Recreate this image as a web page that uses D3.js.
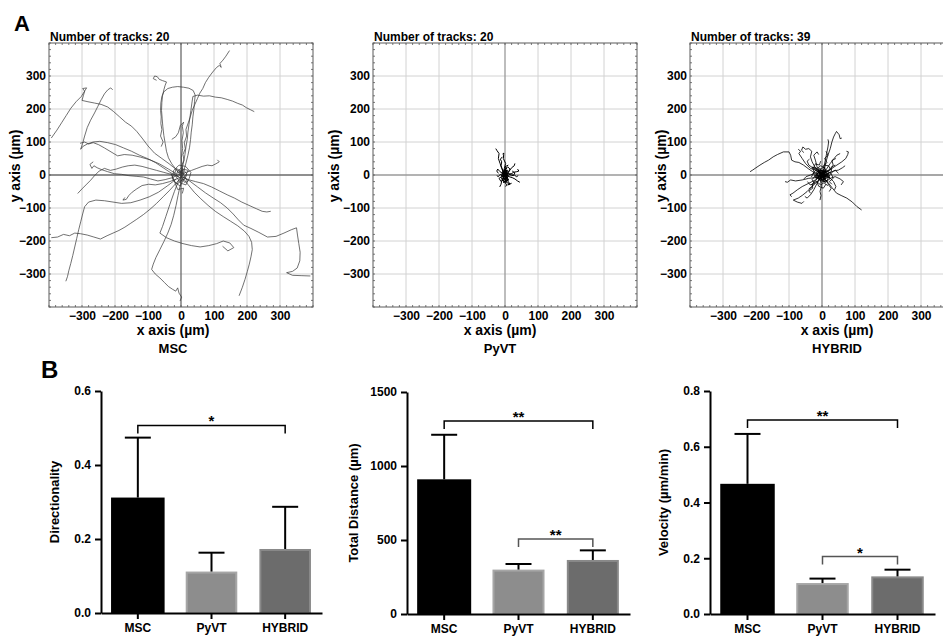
<!DOCTYPE html>
<html>
<head>
<meta charset="utf-8">
<script src="https://cdn.jsdelivr.net/npm/d3@7"></script>
<style>
  body { margin: 0; background: #fff; }
  text { font-family: "Liberation Sans", Arial, sans-serif; font-weight: bold; fill: #000; }
</style>
</head>
<body>
<svg id="fig" width="943" height="638"></svg>
<script>
// ---- data ----
var groups = ["MSC", "PyVT", "HYBRID"];
var trackCounts = [20, 20, 39];
var axisTicks = [-300, -200, -100, 0, 100, 200, 300];

// tracks in um, flat x,y lists
var mscTracks = [
  [0,0, 5,12, 2,28, 9,45, 6,62, 13,80, 10,98, 17,118, 15,138, 22,158, 28,176, 34,196, 42,214, 50,232, 57,248, 66,262, 74,280, 84,296, 96,312, 108,326, 116,332, 122,326, 118,338, 127,348, 136,360, 147,377],
  [-4,4, 3,18, 8,40, 12,62, 15,85, 19,108, 21,130, 24,152, 27,174, 30,196, 33,218, 36,238, 50,242, 68,239, 86,240, 104,236, 122,234, 140,229, 156,224, 172,217, 186,212, 198,204, 210,198, 222,192],
  [3,-4, 9,14, 15,36, 21,60, 26,84, 29,108, 31,130, 34,152, 36,176, 39,198, 41,222, 43,242, 37,256, 24,263, 8,266, -10,268, -26,266, -40,262, -52,252, -58,238, -61,218, -62,196, -60,176, -61,156, -58,138, -62,118, -54,100, -60,86],
  [-6,4, -16,18, -28,34, -38,52, -44,72, -48,96, -52,120, -55,146, -57,170, -59,196, -58,220, -56,240, -52,258, -48,272, -44,282, -56,286, -66,290, -72,298, -80,300, -84,292, -74,287],
  [2,6, -16,18, -36,34, -58,50, -80,66, -100,88, -118,112, -134,132, -150,148, -168,160, -186,176, -204,192, -222,206, -242,214, -262,218, -282,222, -300,226, -296,240, -292,254, -298,262, -286,264, -302,238, -318,222, -334,202, -348,180, -362,158, -376,136, -393,112],
  [-8,-4, -30,6, -54,22, -78,38, -102,50, -126,60, -150,72, -174,82, -198,92, -222,98, -246,102, -266,100, -284,94, -298,86, -304,78, -298,96, -292,118, -284,144, -274,166, -262,188, -252,208, -242,228, -232,246, -222,258, -213,264, -207,258],
  [-12,2, -38,18, -66,34, -94,46, -122,54, -148,60, -172,62, -192,58, -212,70, -232,82, -250,92, -266,98, -280,94, -292,100, -306,96],
  [-10,-4, -30,2, -52,8, -74,14, -96,20, -118,26, -140,30, -160,28, -178,24, -196,18, -214,14, -232,20, -248,12, -262,-2, -274,-16, -288,-30, -300,-42, -313,-56],
  [-6,2, -26,-8, -48,-14, -70,-18, -92,-12, -114,-6, -136,-4, -158,-2, -180,2, -202,4, -222,10, -240,16, -254,22, -264,28, -270,20, -276,32, -266,40],
  [4,-4, -14,-12, -34,-20, -56,-26, -78,-30, -98,-28, -118,-32, -134,-42, -148,-52, -158,-62, -166,-74, -176,-76, -170,-68],
  [0,-8, -16,-26, -34,-46, -54,-66, -74,-86, -94,-104, -114,-120, -134,-134, -152,-146, -170,-158, -188,-168, -206,-176, -224,-184, -244,-194, -264,-188, -284,-182, -304,-178, -322,-176, -338,-184, -356,-180, -374,-188, -393,-190],
  [-14,-12, -40,-32, -68,-52, -96,-66, -124,-76, -152,-84, -180,-86, -206,-82, -232,-78, -258,-76, -280,-82, -292,-96, -298,-118, -304,-142, -310,-166, -316,-192, -322,-218, -328,-244, -334,-268, -340,-290, -344,-308, -349,-322],
  [3,-10, -3,-34, -9,-62, -15,-92, -22,-122, -30,-150, -40,-176, -52,-202, -64,-226, -76,-250, -84,-270, -89,-286, -78,-300, -64,-312, -50,-326, -38,-338, -26,-346, -16,-352, -10,-342, -6,-358, 2,-370, -3,-382],
  [8,-12, 22,-30, 40,-52, 60,-72, 82,-92, 104,-110, 128,-126, 150,-140, 172,-154, 192,-170, 206,-186, 214,-204, 216,-226, 212,-248, 207,-270, 201,-292, 194,-316, 186,-340, 176,-366],
  [5,-6, 26,-18, 50,-36, 74,-54, 98,-70, 120,-84, 140,-100, 158,-118, 174,-136, 190,-152, 212,-162, 236,-174, 262,-188, 288,-186, 312,-176, 334,-166, 350,-160, 353,-182, 357,-208, 361,-234, 360,-260, 352,-282, 338,-292, 320,-296, 338,-304, 364,-305, 392,-306],
  [-6,-14, -20,-50, -34,-90, -46,-126, -56,-156, -64,-176, -44,-190, -20,-200, 6,-208, 32,-214, 58,-218, 84,-214, 108,-208, 128,-200, 148,-206, 160,-220, 142,-230, 126,-216],
  [4,-6, 22,-14, 44,-20, 68,-26, 92,-36, 116,-48, 140,-60, 162,-70, 184,-82, 206,-92, 228,-102, 246,-110, 260,-112, 272,-110],
  [0,4, 16,8, 32,14, 48,20, 64,26, 80,30, 94,28, 106,34, 116,40, 110,46],
  [0,0, 8,-6, -5,-10, 10,5, -8,8, 5,15, -3,-18, 12,-12, 18,3, 2,22, -10,12, -15,-5, 0,-25, 15,-30, 25,-10, 30,8, 14,26, -6,30, -22,14, -26,-12, -12,-28, 6,-14, -4,4, 10,-22, 20,-20, 4,8, -14,20, -20,2, -8,-6, 6,18, 22,14, 12,-4, -2,-34, -18,-22, -30,4, -10,-44, 8,-40, 4,-56],
  [0,0, 3,26, 1,52, 5,80, 3,104, 7,128, 4,148, 8,160, -2,150, -8,128, -16,116, -28,108]
];

var pyvtTracks = [
  [0,0, -5,8, -10,20, -15,35, -20,50, -18,65, -25,75, -28,80],
  [0,0, 3,10, -2,20, 2,35, -5,50, -4,62, -6,65, -3,66, -6,62],
  [0,0, 10,5, 18,2, 25,8, 35,10, 42,12, 38,18],
  [0,0, 12,-5, 22,-8, 30,-12, 38,-18, 45,-22],
  [0,0, -5,-8, -10,-18, -12,-28, -16,-36],
  [0,0, 6,-10, 10,-20, 15,-28, 8,-30, 20,-25],
  [0,0, -8,5, -15,10, -22,18, -25,12, -20,5],
  [2,-3, 8,5, 15,15, 20,22, 28,28, 30,35],
  [-3,2, -10,-5, -18,-10, -12,-20, -5,-15, 0,-22],
  [0,5, 5,12, 10,8, 15,18, 8,25, 2,18],
  [-2,0, -6,12, -12,28, -10,40, -14,48, -8,55],
  [1,-2, 5,-8, -3,-12, 4,-18, 10,-15, 6,-5],
  [0,0, -4,6, 3,10, -2,15, 6,20, 0,25, 10,30],
  [0,0, 12,3, 20,-2, 28,0, 35,-5, 40,-2],
  [0,0, -8,-3, -15,2, -20,-5, -25,-2],
  [0,0, 3,-12, 0,-22, 5,-30, 2,-35],
  [2,2, 10,-3, 18,5, 25,-2, 30,6, 22,12],
  [-1,1, -6,-4, -3,-10, -9,-14, -4,-20, 4,-22, 12,-26],
  [0,0, 4,4, -4,4, 4,-4, -4,-4, 6,8, -6,-8, 2,-12, -2,12, 8,14, -8,10, -10,-12, 8,-10, 0,18, -4,-18],
  [0,3, 2,-5, -6,3, 6,1, -2,9, 8,-8, -8,-4, 4,-16, -4,16, 10,4, -10,0, 2,22, 6,-20, -6,-22, 12,-14]
];

var hybridTracks = [
  [0,0, -15,5, -28,10, -40,18, -56,30, -70,38, -82,40, -92,45, -95,60, -100,70, -117,70, -135,62, -148,55, -162,45, -175,38, -188,30, -200,22, -210,15, -218,10],
  [0,0, -10,12, -22,25, -30,40, -35,55, -31,72, -40,80, -50,78, -58,85, -62,75, -55,68],
  [-5,5, -20,15, -35,20, -50,35, -60,50, -70,65, -65,72, -72,78],
  [2,5, 8,20, 12,40, 18,60, 25,80, 30,100, 35,115, 40,125, 44,132, 52,122, 55,110, 60,112],
  [0,0, 5,20, 10,45, 14,65, 18,85, 20,100, 18,108],
  [3,2, 15,10, 30,20, 45,30, 60,40, 72,50, 78,62, 80,70, 74,72],
  [5,-3, 20,5, 35,12, 50,15, 62,22, 70,28],
  [-3,-2, -20,-8, -40,-10, -60,-15, -80,-18, -95,-15, -105,-22, -112,-20],
  [-5,-5, -20,-15, -40,-25, -60,-35, -75,-45, -88,-55, -97,-60, -92,-66],
  [0,-5, -15,-20, -30,-35, -45,-50, -60,-62, -72,-70, -87,-76, -75,-82, -61,-86, -55,-80],
  [2,-4, 10,-15, 20,-25, 30,-38, 44,-55, 58,-62, 75,-70, 92,-82, 105,-95, 120,-106],
  [0,-3, -4,-20, -2,-35, -6,-50, -3,-62, -6,-76],
  [-3,-4, -15,-25, -25,-45, -35,-60, -45,-70, -52,-65],
  [4,4, 15,20, 25,35, 35,48, 45,60, 55,65],
  [-4,4, -15,25, -20,45, -25,60, -15,70, -10,62],
  [4,-2, 25,-10, 40,-5, 55,-12, 65,-20, 58,-30],
  [5,0, 20,-5, 35,-20, 42,-35, 38,-45],
  [-2,3, -10,-2, -22,5, -35,0, -48,-5, -55,-12],
  [0,0, 10,8, 22,-2, 30,8, 40,15, 50,5],
  [0,0, -8,10, -15,18, -28,22, -40,30, -45,42, -38,48],
  [0,0, 5,-12, 15,-18, 20,-30, 28,-40, 22,-50],
  [0,0, -5,-10, -12,-20, -25,-22, -30,-35, -40,-42],
  [0,0, 10,15, 5,28, 15,38, 8,50, 18,60, 12,72],
  [0,0, -12,-5, -20,-18, -30,-28, -28,-40, -40,-48, -35,-55],
  [0,0, 15,3, 28,10, 30,25, 40,30],
  [0,0, 8,-5, -6,-8, 10,6, -10,5, 6,12, -4,-14, 14,-10, 18,4, 2,18],
  [-2,2, -12,-6, 4,-18, 12,-4, -8,10, -16,2, -2,-22, 16,-16, 22,0],
  [1,-1, 20,-8, 8,12, -14,14, -20,-4, -6,-16, 10,-20, 24,-12, 18,10],
  [0,2, -6,18, 6,24, 14,10, 26,16, 20,28, 6,30],
  [0,-2, -18,-10, -26,6, -14,20, -30,24, -24,10, -32,-6],
  [2,0, 8,-22, -4,-30, -16,-20, -10,-34, 4,-40, 12,-28],
  [-1,0, 6,6, -6,6, 6,-6, -6,-6, 10,2, -10,-2, 2,10, -2,-10, 12,12, -12,12, 12,-12, -12,-12, 16,0, -16,0],
  [3,2, 14,14, 28,4, 34,-10, 22,-20, 30,-28],
  [-2,-3, -14,12, -26,20, -20,34, -8,30, -4,42],
  [0,0, -20,-2, -30,-14, -22,-26, -36,-30, -44,-20],
  [2,4, 12,-6, 4,-12, 16,-18, 8,-26, 18,-32],
  [-3,1, -10,8, 0,14, -12,22, -4,28, 8,22],
  [0,0, 24,18, 34,30, 30,44, 42,50],
  [0,0, -4,-4, 4,-2, -2,6, 6,4, -6,-2, 2,-8, 8,-6, -8,6, 0,14, 14,-2, -14,-6, 4,-16, 10,10, -10,16, -18,-10]
];

// panel B values (mean and SD)
var directionality = [0.312, 0.112, 0.173];
var directionalitySD = [0.162, 0.051, 0.114];
var totalDistance = [910, 300, 365];
var totalDistanceSD = [301, 38, 65];
var velocity = [0.467, 0.111, 0.135];
var velocitySD = [0.179, 0.016, 0.024];

var directionalityTicks = [0, 0.2, 0.4, 0.6];
var distanceTicks = [0, 500, 1000, 1500];
var velocityTicks = [0, 0.2, 0.4, 0.6, 0.8];

var directionalitySig = [["MSC", "HYBRID", 0.507, "*"]];
var distanceSig = [["MSC", "HYBRID", 1304, "**"], ["PyVT", "HYBRID", 507, "**"]];
var velocitySig = [["MSC", "HYBRID", 0.696, "**"], ["PyVT", "HYBRID", 0.206, "*"]];

// ---- drawing ----
var svg = d3.select("#fig");

svg.append("text").attr("x", 14).attr("y", 31).style("font-size", "22px").text("A");
svg.append("text").attr("x", 41).attr("y", 378).style("font-size", "24px").text("B");

function toPairs(a) {
  var out = [];
  for (var i = 0; i < a.length; i += 2) out.push([a[i], a[i + 1]]);
  return out;
}

var trackPanels = [
  { tracks: mscTracks, left: 49, stroke: "#333", sw: 0.7, zero: "#6a6a6a", ylabX: 20, titleX: 173 },
  { tracks: pyvtTracks, left: 373, stroke: "#000", sw: 1.0, zero: "#9a9a9a", ylabX: 339, titleX: 500 },
  { tracks: hybridTracks, left: 690, stroke: "#000", sw: 0.8, zero: "#8a8a8a", ylabX: 666, titleX: 837 }
];

trackPanels.forEach(function(p, i) {
  var size = 264, top = 43;
  var g = svg.append("g").attr("transform", "translate(" + p.left + "," + top + ")");
  var x = d3.scaleLinear().domain([-400, 400]).range([0, size]);
  var y = d3.scaleLinear().domain([-400, 400]).range([size, 0]);

  g.append("clipPath").attr("id", "clip" + i)
    .append("rect").attr("width", size).attr("height", size);

  var grid = axisTicks.filter(d => d != 0);
  g.selectAll(".vg").data(grid).enter().append("line")
    .attr("x1", d => x(d)).attr("x2", d => x(d))
    .attr("y1", 0).attr("y2", size)
    .attr("stroke", "#d2d2d2").attr("stroke-width", 1);
  g.selectAll(".hg").data(grid).enter().append("line")
    .attr("y1", d => y(d)).attr("y2", d => y(d))
    .attr("x1", 0).attr("x2", size)
    .attr("stroke", "#d2d2d2").attr("stroke-width", 1);
  g.append("line").attr("x1", x(0)).attr("x2", x(0)).attr("y1", 0).attr("y2", size)
    .attr("stroke", p.zero).attr("stroke-width", 1.3);
  g.append("line").attr("y1", y(0)).attr("y2", y(0)).attr("x1", 0).attr("x2", size)
    .attr("stroke", p.zero).attr("stroke-width", 1.3);

  var line = d3.line().x(d => x(d[0])).y(d => y(d[1]));
  g.append("g").attr("clip-path", "url(#clip" + i + ")")
    .selectAll("path").data(p.tracks).enter().append("path")
    .attr("d", d => line(toPairs(d)))
    .attr("fill", "none")
    .attr("stroke", p.stroke)
    .attr("stroke-width", p.sw)
    .attr("stroke-linejoin", "round");

  // minor ticks on the frame
  var minor = x.ticks(40);
  var mt = g.append("g").attr("stroke", "#555").attr("stroke-width", 0.8);
  minor.forEach(function(v) {
    mt.append("line").attr("x1", x(v)).attr("x2", x(v)).attr("y1", size).attr("y2", size - 2);
    mt.append("line").attr("x1", x(v)).attr("x2", x(v)).attr("y1", 0).attr("y2", 2);
    mt.append("line").attr("y1", y(v)).attr("y2", y(v)).attr("x1", 0).attr("x2", 2);
    mt.append("line").attr("y1", y(v)).attr("y2", y(v)).attr("x1", size).attr("x2", size - 2);
  });

  g.append("rect").attr("width", size).attr("height", size)
    .attr("fill", "none").attr("stroke", "#5a5a5a").attr("stroke-width", 1);

  var xa = g.append("g").attr("transform", "translate(0," + size + ")")
    .call(d3.axisBottom(x).tickValues(axisTicks).tickSize(0).tickPadding(4));
  var ya = g.append("g")
    .call(d3.axisLeft(y).tickValues(axisTicks).tickSize(0).tickPadding(3));
  [xa, ya].forEach(function(a) {
    a.select(".domain").remove();
    a.selectAll("text").style("font-size", "12px").attr("font-family", null);
  });

  g.append("text").attr("x", 1).attr("y", -2).style("font-size", "12px")
    .text("Number of tracks: " + trackCounts[i]);

  svg.append("text").attr("transform", "translate(" + p.ylabX + ",166) rotate(-90)")
    .attr("text-anchor", "middle").style("font-size", "14px").text("y axis (\u00b5m)");
  svg.append("text").attr("x", p.titleX).attr("y", 335)
    .attr("text-anchor", "middle").style("font-size", "14px").text("x axis (\u00b5m)");
  svg.append("text").attr("x", p.titleX).attr("y", 353)
    .attr("text-anchor", "middle").style("font-size", "13px").text(groups[i]);
});

var barFill = ["#000", "#8d8d8d", "#6c6c6c"];
var barEdge = ["#000", "#a6a6a6", "#898989"];

var barPanels = [
  { values: directionality, sd: directionalitySD, ticks: directionalityTicks, sig: directionalitySig,
    fmt: d3.format(".1f"), label: "Directionality", ax: 101, ax1: 322, zeroY: 613, topY: 391, labX: 59 },
  { values: totalDistance, sd: totalDistanceSD, ticks: distanceTicks, sig: distanceSig,
    fmt: d3.format("d"), label: "Total Distance (\u00b5m)", ax: 407, ax1: 630, zeroY: 614, topY: 392, labX: 358 },
  { values: velocity, sd: velocitySD, ticks: velocityTicks, sig: velocitySig,
    fmt: d3.format(".1f"), label: "Velocity (\u00b5m/min)", ax: 710, ax1: 935, zeroY: 614, topY: 391, labX: 668 }
];

barPanels.forEach(function(p) {
  var g = svg.append("g");
  var x = d3.scaleBand().domain(groups).range([p.ax, p.ax1]).paddingInner(0.3).paddingOuter(0.15);
  var y = d3.scaleLinear().domain([0, d3.max(p.ticks)]).range([p.zeroY, p.topY]);
  var bw = x.bandwidth();

  g.selectAll(".bar").data(p.values).enter().append("rect")
    .attr("x", (d, i) => x(groups[i]) + (i ? 1 : 0))
    .attr("y", d => y(d) + 1)
    .attr("width", (d, i) => bw - (i ? 2 : 0))
    .attr("height", d => p.zeroY - y(d) - 1)
    .attr("fill", (d, i) => barFill[i])
    .attr("stroke", (d, i) => barEdge[i])
    .attr("stroke-width", 2);

  // error bars (upper only)
  p.values.forEach(function(v, i) {
    var cx = x(groups[i]) + bw / 2;
    g.append("line").attr("x1", cx).attr("x2", cx).attr("y1", y(v)).attr("y2", y(v + p.sd[i]))
      .attr("stroke", "#000").attr("stroke-width", 2);
    g.append("line").attr("x1", cx - 13).attr("x2", cx + 13)
      .attr("y1", y(v + p.sd[i])).attr("y2", y(v + p.sd[i]))
      .attr("stroke", "#000").attr("stroke-width", 2);
  });

  // significance brackets
  p.sig.forEach(function(s, k) {
    var x1 = x(s[0]) + bw / 2, x2 = x(s[1]) + bw / 2, yy = y(s[2]);
    var col = k ? "#555" : "#000";
    g.append("path").attr("d", "M" + x1 + "," + (yy + 8) + "V" + yy + "H" + x2 + "V" + (yy + 8))
      .attr("fill", "none").attr("stroke", col).attr("stroke-width", 1.5);
    g.append("text").attr("x", (x1 + x2) / 2).attr("y", yy + 1)
      .attr("text-anchor", "middle").style("font-size", "15px").text(s[3]);
  });

  var ya = g.append("g").attr("transform", "translate(" + p.ax + ",0)")
    .call(d3.axisLeft(y).tickValues(p.ticks).tickFormat(p.fmt).tickSize(6).tickSizeOuter(0).tickPadding(4));
  var xa = g.append("g").attr("transform", "translate(0," + p.zeroY + ")")
    .call(d3.axisBottom(x).tickSize(6).tickSizeOuter(0).tickPadding(4));
  [ya, xa].forEach(function(a) {
    a.selectAll("path, line").attr("stroke", "#000").attr("stroke-width", 2);
    a.selectAll("text").style("font-size", "12px").attr("font-family", null);
  });

  g.append("text").attr("transform", "translate(" + p.labX + "," + ((p.zeroY + p.topY) / 2) + ") rotate(-90)")
    .attr("text-anchor", "middle").style("font-size", "13px").text(p.label);
});
</script>
</body>
</html>
